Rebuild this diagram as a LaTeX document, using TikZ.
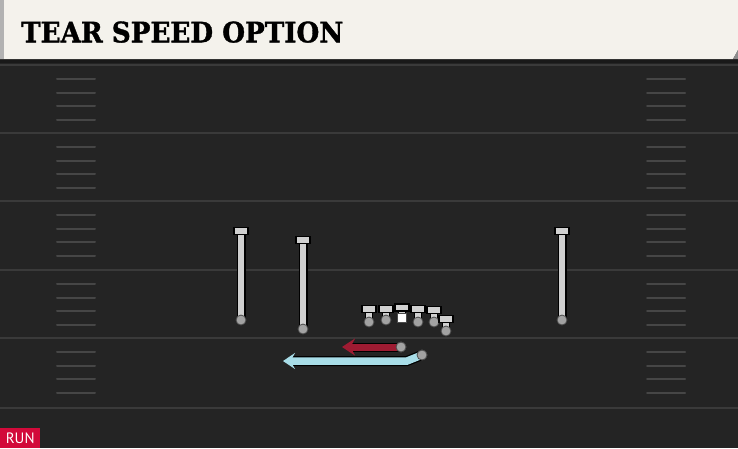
\documentclass[tikz,border=0pt]{standalone}
\usepackage{fontspec}
\usepackage{graphicx}
\usetikzlibrary{arrows.meta}
\newfontfamily\titlefont{DejaVu Serif Condensed Bold}[FakeBold=1.2]
\newfontfamily\labelfont{PT Sans}
\definecolor{fieldbg}{HTML}{242424}
\definecolor{yardcol}{HTML}{3A3A3A}
\definecolor{hashcol}{HTML}{464646}
\definecolor{headbg}{HTML}{F4F2EC}
\definecolor{barcol}{HTML}{D0D0D0}
\definecolor{dotcol}{HTML}{A2A2A2}
\definecolor{redroute}{HTML}{9E1B32}
\definecolor{cyanroute}{HTML}{A8DDE8}
\definecolor{runred}{HTML}{D20A3A}
\tikzset{
  yard/.style={draw=yardcol, line width=2pt},
  hashmark/.style={draw=hashcol, line width=2pt, line cap=round},
  stemout/.style={draw=black, line width=9pt},
  stemin/.style={draw=barcol, line width=6.5pt},
  crossbar/.style={fill=barcol, draw=black, line width=1.2pt},
  pdot/.style={circle, fill=dotcol, draw=black!70, line width=0.8pt, inner sep=0pt, minimum size=10pt},
  csquare/.style={rectangle, fill=white, draw=black!70, line width=0.8pt, inner sep=0pt, minimum size=8.5pt},
  redout/.style={draw=black, line width=9pt},
  redrt/.style={draw=redroute, line width=7pt, -{Stealth[length=13pt, width=17pt, inset=4.5pt]}},
  cyanout/.style={draw=black, line width=10pt},
  cyanrt/.style={draw=cyanroute, line width=7.5pt, -{Stealth[length=12pt, width=16pt, inset=4.5pt]}},
}
\begin{document}
\begin{tikzpicture}[x=1pt, y=-1pt]
\useasboundingbox (0,0) rectangle (738,448);
% field
\fill[fieldbg] (0,0) rectangle (738,448);
% yard lines
\foreach \yy in {65,133,201,270,338,408} {
  \draw[yard] (0,\yy) -- (738,\yy);
}
% hash marks
\foreach \base in {65,133,201,270,338} {
  \foreach \off in {14,27.5,41,55} {
    \draw[hashmark] (57,\base+\off) -- (95,\base+\off);
    \draw[hashmark] (647,\base+\off) -- (685,\base+\off);
  }
}
% header
\fill[black!90] (0,59) rectangle (738,62.5);
\fill[headbg] (0,0) -- (738,0) -- (738,50) -- (733,59) -- (0,59) -- cycle;
\fill[black!30] (0,0) rectangle (4,59);
\fill[black!45] (738,50) -- (733,59) -- (738,59) -- cycle;
\node[anchor=south west, inner sep=0pt] (title) at (21,43)
  {\resizebox{322pt}{21pt}{\titlefont TEAR SPEED OPTION}};
% receivers
\foreach \nm/\xx/\yt/\yb in {wra/241/231/320, wrb/303/240/329, wrc/562/231/320} {
  \draw[stemout] (\xx,\yt) -- (\xx,\yb);
  \draw[stemin] (\xx,\yt) -- (\xx,\yb);
  \draw[crossbar] (\xx-7,\yt-3.5) rectangle (\xx+7,\yt+3.5);
  \node[pdot] (\nm) at (\xx,\yb) {};
}
% linemen
\foreach \nm/\xx/\yt/\yb in {lt/369/309/322, lg/386/309/320, rg/418/309/322, rt/434/310/322, te/446/319/331} {
  \draw[stemout, line width=8pt] (\xx,\yt) -- (\xx,\yb);
  \draw[stemin, line width=5.5pt] (\xx,\yt) -- (\xx,\yb);
  \draw[crossbar] (\xx-7,\yt-3.5) rectangle (\xx+7,\yt+3.5);
  \node[pdot] (\nm) at (\xx,\yb) {};
}
% center
\draw[stemout, line width=8pt] (402,307) -- (402,316);
\draw[stemin, line width=5.5pt] (402,307) -- (402,316);
\draw[crossbar] (395,304) rectangle (409,311);
\node[csquare] (c) at (402,318) {};
% routes
\coordinate (redend) at (342,347);
\coordinate (cyanbend) at (407,361);
\coordinate (cyanend) at (283,361);
\node[pdot] (qb) at (401,347) {};
\node[pdot] (rb) at (422,355) {};
\draw[redout] (qb.center) -- ([xshift=9pt]redend);
\draw[redrt] (qb.center) -- (redend);
\draw[cyanout] (rb.center) -- (cyanbend) -- ([xshift=9pt]cyanend);
\draw[cyanrt] (rb.center) -- (cyanbend) -- (cyanend);
\node[pdot] at (qb) {};
\node[pdot] at (rb) {};
% run label
\node[fill=runred, text=white, anchor=south west, minimum width=40pt, minimum height=20pt, inner sep=0pt, font=\labelfont\fontsize{15}{15}\selectfont] (run) at (0,448) {RUN};
\end{tikzpicture}
\end{document}
